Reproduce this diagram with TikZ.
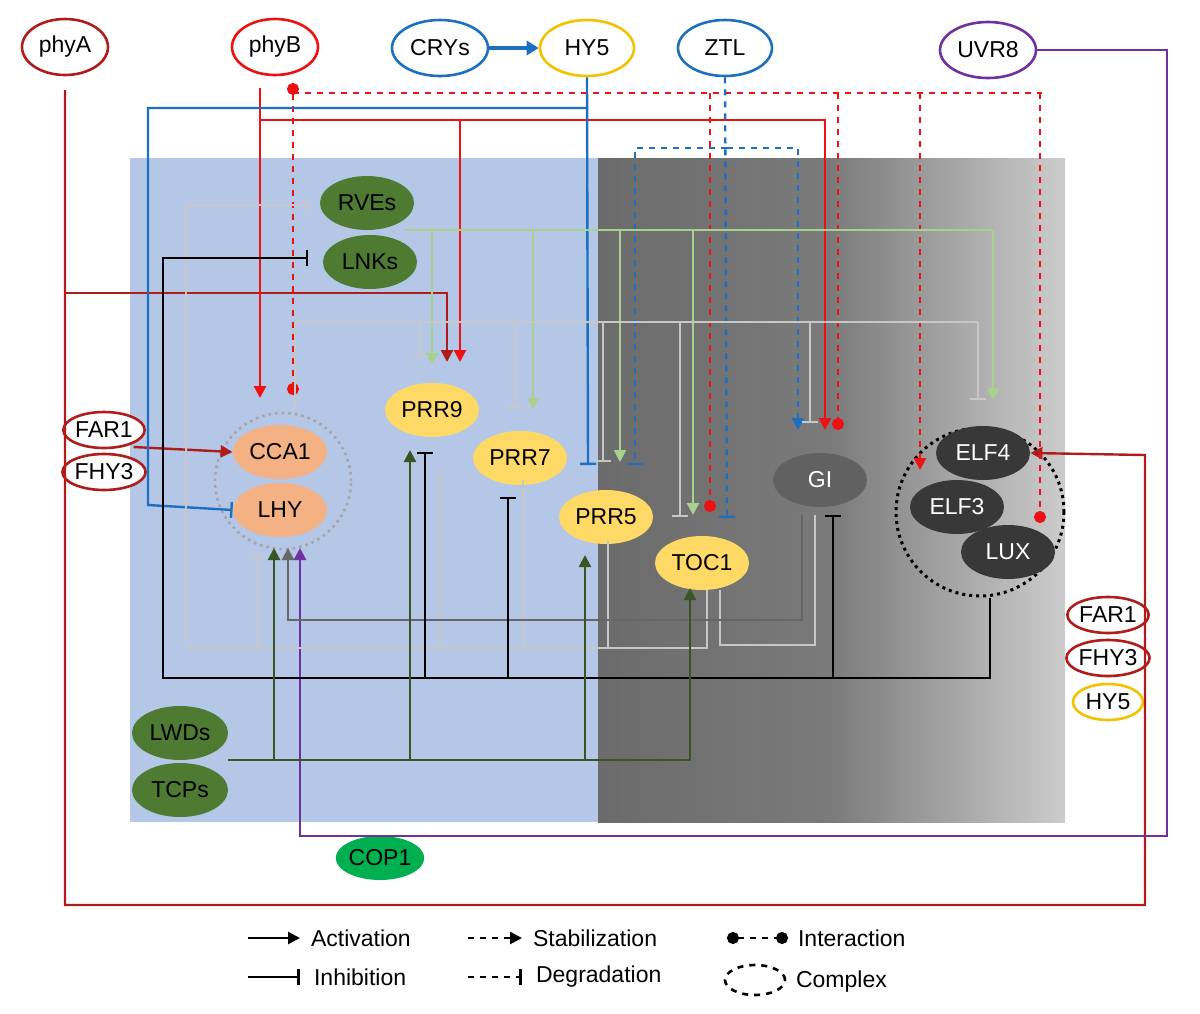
\documentclass[tikz,border=0pt]{standalone}
\usepackage{fontspec}
\setmainfont{Liberation Sans}
\usetikzlibrary{arrows.meta, shapes.geometric, positioning}
\definecolor{phyAred}{HTML}{B01C1C}
\definecolor{phyBred}{HTML}{EE1111}
\definecolor{cryblue}{HTML}{1E6FC0}
\definecolor{hyyellow}{HTML}{F2C200}
\definecolor{uvpurple}{HTML}{7030A0}
\definecolor{lightgreen}{HTML}{A9D18E}
\definecolor{darkgreen}{HTML}{375623}
\definecolor{leafgreen}{HTML}{4E7A32}
\definecolor{copgreen}{HTML}{00B050}
\definecolor{prryellow}{HTML}{FFD966}
\definecolor{ccasalmon}{HTML}{F4B183}
\definecolor{panelblue}{HTML}{B4C7E7}

\begin{document}
\begin{tikzpicture}[x=0.5pt, y=-0.5pt, font=\fontsize{11.5}{13}\selectfont,
  oval/.style={ellipse, draw, line width=1.3pt, fill=white, minimum width=43pt, minimum height=28pt, inner sep=0pt},
  small/.style={ellipse, draw, line width=1.3pt, fill=white, minimum width=35pt, minimum height=18pt, inner sep=0pt},
  gene/.style={ellipse, minimum width=47pt, minimum height=27pt, inner sep=0pt},
  act/.style={-{Triangle[length=6pt,width=6pt]}},
  inh/.style={-{Bar[width=8pt]}},
  dotend/.style={-{Circle[length=6pt]}},
  wire/.style={line width=1.2pt},
  lg/.style={wire, color=black!22},
  dg/.style={wire, color=black!60}]

\useasboundingbox (0,0) rectangle (1200,1013);

% panels
\fill[panelblue] (130,158) rectangle (598,822);
\shade[left color=black!58, right color=black!52] (598,158) rectangle (830,822);
\shade[left color=black!52, right color=black!20] (830,158) rectangle (1065,822);

% light inputs
\node[oval, draw=phyAred] (phyA) at (65,47) {phyA};
\node[oval, draw=phyBred] (phyB) at (275,47) {phyB};
\node[oval, draw=cryblue, minimum width=48pt] (CRYs) at (440,48) {CRYs};
\node[oval, draw=hyyellow, minimum width=47pt] (HY5) at (587,48) {HY5};
\node[oval, draw=cryblue, minimum width=47pt] (ZTL) at (725,48) {ZTL};
\node[oval, draw=uvpurple, minimum width=48pt] (UVR8) at (988,50) {UVR8};

% clock genes
\node[gene, fill=leafgreen] (RVEs) at (367,203) {RVEs};
\node[gene, fill=leafgreen] (LNKs) at (370,262) {LNKs};
\node[gene, fill=ccasalmon] (CCA1) at (280,452) {CCA1};
\node[gene, fill=ccasalmon] (LHY) at (280,510) {LHY};
\node[draw=black!35, dotted, line width=1.3pt, circle, minimum size=68pt] (CL) at (283,481) {};
\node[gene, fill=prryellow] (PRR9) at (432,410) {PRR9};
\node[gene, fill=prryellow] (PRR7) at (520,458) {PRR7};
\node[gene, fill=prryellow] (PRR5) at (606,517) {PRR5};
\node[gene, fill=prryellow] (TOC1) at (702,563) {TOC1};
\node[gene, fill=black!62, text=white] (GI) at (820,480) {GI};
\node[draw, dotted, line width=1.5pt, circle, minimum size=84pt] (EC) at (980,512) {};
\node[gene, fill=black!78, text=white] (ELF4) at (983,453) {ELF4};
\node[gene, fill=black!78, text=white] (ELF3) at (957,507) {ELF3};
\node[gene, fill=black!78, text=white] (LUX) at (1008,552) {LUX};

% side factors
\node[small, draw=phyAred] (FARa) at (104,430) {FAR1};
\node[small, draw=phyAred] (FHYa) at (104,472) {FHY3};
\node[small, draw=phyAred] (FARb) at (1108,615) {FAR1};
\node[small, draw=phyAred] (FHYb) at (1108,658) {FHY3};
\node[small, draw=hyyellow] (HYb) at (1108,702) {HY5};
\node[gene, fill=leafgreen, minimum width=48pt] (LWDs) at (180,733) {LWDs};
\node[gene, fill=leafgreen, minimum width=48pt] (TCPs) at (180,790) {TCPs};
\node[gene, fill=copgreen, minimum width=42pt, minimum height=22pt] (COP1) at (380,858) {COP1};

% phyA
\draw[wire, phyAred, act] (65,90) -- (65,905) -| (1145,455) -- (ELF4.east);
\draw[wire, phyAred, act] (65,293) -| (447,362);
\draw[wire, phyAred, act] (FARa.south east |- 0,447) -- (CCA1.west);

% phyB
\draw[wire, phyBred, act] (260,88) -- (260,398);
\draw[wire, phyBred, act] (260,120) -| (825,430);
\draw[wire, phyBred, act] (460,120) -- (460,362);
\draw[wire, phyBred, dashed, {Circle[length=6pt]}-{Circle[length=6pt]}] (293,83) -- (293,395);
\draw[wire, phyBred, dashed] (293,93) -- (1042,93);
\draw[wire, phyBred, dashed, dotend] (710,93) -- (710,512);
\draw[wire, phyBred, dashed, dotend] (838,93) -- (838,430);
\draw[wire, phyBred, dashed, act] (920,93) -- (920,470);
\draw[wire, phyBred, dashed, dotend] (1040,93) -- (1040,523);

% CRYs, HY5, ZTL, UVR8
\draw[line width=2pt, cryblue, -{Triangle[length=6pt,width=7pt]}] (CRYs) -- (HY5);
\draw[wire, cryblue, inh] (HY5.south) -- (588,465);
\draw[wire, cryblue, inh] (588,108) -| (148,505) -- (LHY.west);
\draw[wire, cryblue, dashed, inh] (ZTL.south) -- (727,518);
\draw[wire, cryblue, dashed, act] (727,148) -| (798,430);
\draw[wire, cryblue, dashed, inh] (727,148) -| (635,465);
\draw[wire, uvpurple, act] (UVR8.east) -| (1167,836) -| (300,548);

% RVEs / LNKs
\draw[wire, lightgreen] (405,230) -- (993,230);
\foreach \x/\y in {432/365, 533/410, 620/462, 693/515, 993/400}
  \draw[wire, lightgreen, act] (\x,230) -- (\x,\y);

% CCA1 / LHY repression
\draw[lg] (295,410) |- (978,322);
\foreach \x/\y in {420/357, 515/408, 603/462, 680/517, 810/423, 978/400}
  \draw[lg, inh] (\x,322) -- (\x,\y);

% evening feedback
\draw[lg, inh] (707,590) |- (186,648) |- (308,205);
\foreach \x/\y in {440/470, 523/480, 608/540}
  \draw[lg] (\x,\y) -- (\x,648);
\draw[lg, inh] (258,648) -- (258,555);
\draw[lg] (720,590) |- (815,645) -- (815,515);
\draw[dg, act] (802,515) |- (288,620) -- (288,548);

% evening complex
\draw[wire, black, inh] (EC.south) ++(10,0) |- (163,678) |- (308,258);
\foreach \x/\y in {425/452, 508/497, 833/515}
  \draw[wire, black, inh] (\x,678) -- (\x,\y);

% LWDs / TCPs
\draw[wire, darkgreen, act] (228,760) -| (690,588);
\foreach \x/\y in {274/548, 410/450, 585/555}
  \draw[wire, darkgreen, act] (\x,760) -- (\x,\y);

% legend
\draw[line width=1.3pt, act] (248,938) -- (300,938);
\node[anchor=west] (lgA) at (304,938) {Activation};
\draw[line width=1.3pt, inh] (248,977) -- (300,977);
\node[anchor=west] (lgI) at (307,977) {Inhibition};
\draw[line width=1.3pt, dashed, act] (468,938) -- (522,938);
\node[anchor=west] (lgS) at (526,938) {Stabilization};
\draw[line width=1.3pt, dashed, inh] (468,977) -- (522,977);
\node[anchor=west] (lgD) at (529,977) {Degradation};
\draw[line width=1.3pt, dashed, {Circle[length=6pt]}-{Circle[length=6pt]}] (727,938) -- (788,938);
\node[anchor=west] (lgX) at (791,938) {Interaction};
\node[draw, dashed, line width=1.3pt, ellipse, minimum width=30pt, minimum height=15pt] (lgC) at (755,980) {};
\node[anchor=west] (lgK) at (789,982) {Complex};
\end{tikzpicture}
\end{document}
